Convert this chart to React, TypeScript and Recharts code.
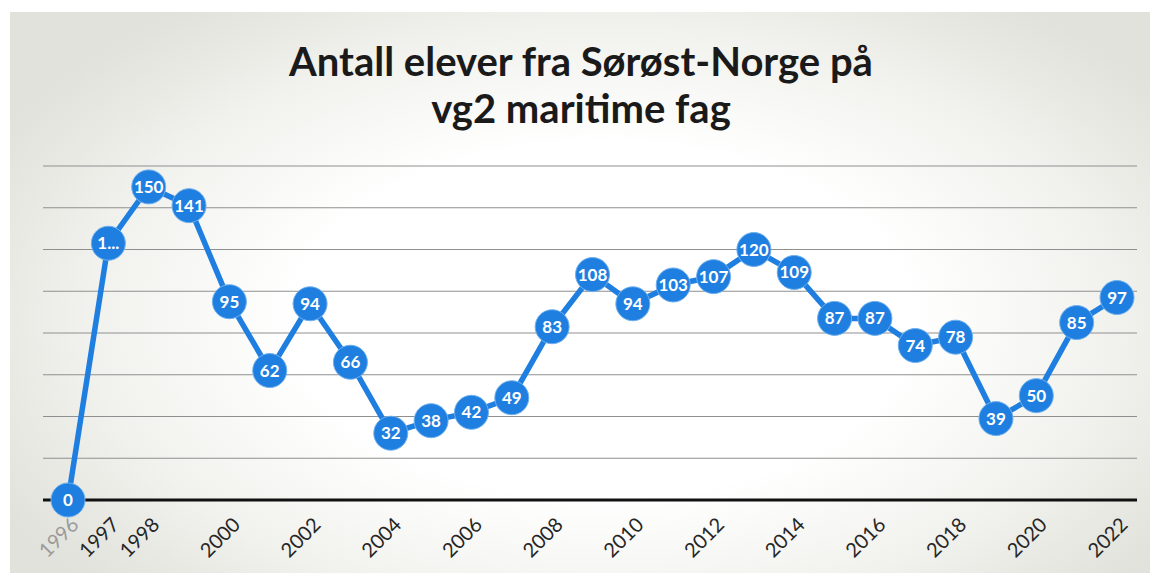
import React from 'react';
import { LineChart, Line, XAxis, YAxis, CartesianGrid, LabelList } from 'recharts';

const years = [
  '1996', '1997', '1998', '1999', '2000', '2001', '2002', '2003', '2004',
  '2005', '2006', '2007', '2008', '2009', '2010', '2011', '2012', '2013',
  '2014', '2015', '2016', '2017', '2018', '2019', '2020', '2021', '2022',
];
const students = [
  0, 123, 150, 141, 95, 62, 94, 66, 32,
  38, 42, 49, 83, 108, 94, 103, 107, 120,
  109, 87, 87, 74, 78, 39, 50, 85, 97,
];
const shownYears = [
  '1996', '1997', '1998', '2000', '2002', '2004', '2006', '2008', '2010',
  '2012', '2014', '2016', '2018', '2020', '2022',
];
// labels Excel cut off because the bubble was too small
const clippedYears = ['1997'];
const yTicks = [0, 20, 40, 60, 80, 100, 120, 140, 160];

const title = ['Antall elever fra Sørøst-Norge på', 'vg2 maritime fag'];

const data = years.map((year, i) => ({ year, students: students[i] }));

const BLUE = '#1f7fe0';
const FONT = 'Lato, "Open Sans", sans-serif';

const YearTick = (props: any) => {
  const { x, y, payload } = props;
  if (!shownYears.includes(payload.value)) return null;
  const first = payload.value === years[0];
  return (
    <g transform={`translate(${x},${y})`}>
      <text
        x={12}
        y={18}
        textAnchor="end"
        transform="rotate(-45, 12, 18)"
        fontFamily={FONT}
        fontSize={20}
        fill={first ? '#9a9a9a' : '#262626'}
      >
        {payload.value}
      </text>
    </g>
  );
};

const Bubble = (props: any) => {
  const { cx, cy } = props;
  if (cx == null || cy == null) return null;
  return <circle cx={cx} cy={cy} r={17} fill={BLUE} stroke="#6fb0ee" strokeWidth={1} />;
};

const formatLabel = (value: any, year: string) =>
  clippedYears.includes(year) ? String(value).slice(0, 1) + '...' : String(value);

const BubbleLabel = (props: any) => {
  const { x, y, value, index } = props;
  return (
    <text
      x={x}
      y={y}
      dy={6}
      textAnchor="middle"
      fontFamily={FONT}
      fontWeight={700}
      fontSize={17}
      fill="#ffffff"
    >
      {formatLabel(value, years[index])}
    </text>
  );
};

export default function App() {
  return (
    <div style={{ position: 'absolute', left: 0, top: 0, width: 1150, height: 573, background: '#ffffff' }}>
      <div
        style={{
          position: 'absolute',
          left: 10,
          top: 12,
          width: 1140,
          height: 561,
          background: 'radial-gradient(ellipse 60% 70% at 52% 55%, #ffffff 45%, #f1f1ed 75%, #e2e2dc 100%)',
        }}
      />
      <div style={{ position: 'absolute', left: 0, top: 0 }}>
        <LineChart width={1150} height={573} data={data} margin={{ top: 166, right: 13, left: 43, bottom: 13 }}>
          <text x={581} y={76} textAnchor="middle" fontFamily={FONT} fontWeight={700} fontSize={40} fill="#1a1a1a">
            {title[0]}
          </text>
          <text x={581} y={123} textAnchor="middle" fontFamily={FONT} fontWeight={700} fontSize={40} fill="#1a1a1a">
            {title[1]}
          </text>
          <CartesianGrid horizontal vertical={false} stroke="#8f8f8f" strokeWidth={1.2} />
          <XAxis
            dataKey="year"
            interval={0}
            height={60}
            padding={{ left: 25, right: 20 }}
            tickLine={false}
            axisLine={{ stroke: '#111111', strokeWidth: 3 }}
            tick={<YearTick />}
          />
          <YAxis hide domain={[0, 160]} ticks={yTicks} />
          <Line
            type="linear"
            dataKey="students"
            stroke={BLUE}
            strokeWidth={5.5}
            dot={<Bubble />}
            activeDot={false}
            isAnimationActive={false}
          >
            <LabelList dataKey="students" content={<BubbleLabel />} />
          </Line>
        </LineChart>
      </div>
    </div>
  );
}
